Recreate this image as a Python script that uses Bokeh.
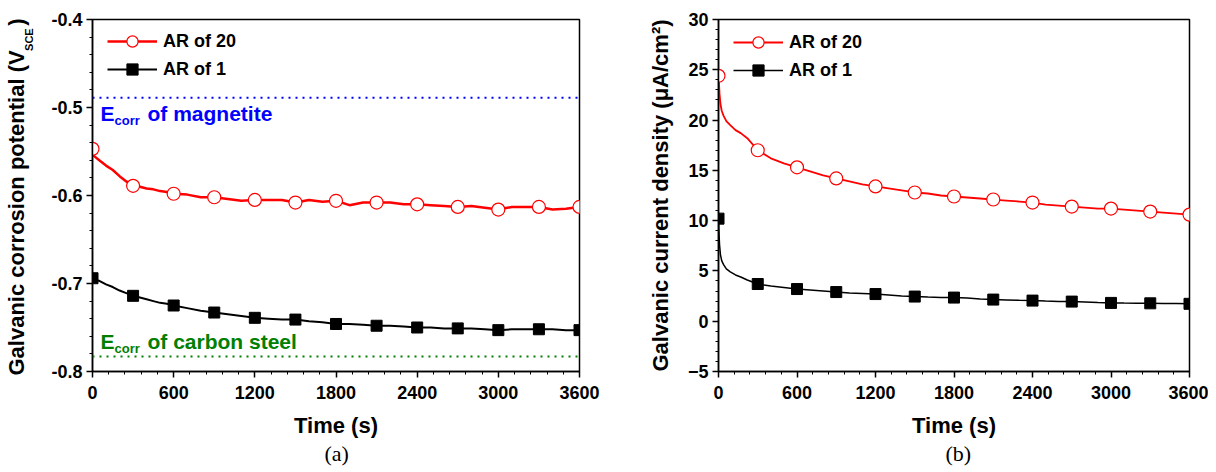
import math
from bokeh.plotting import figure
from bokeh.layouts import row
from bokeh.models import (Range1d, FixedTicker, Label, Legend, LegendItem, Span,
                          NumeralTickFormatter, Title)
from bokeh.embed import file_html
from bokeh.resources import INLINE

# ---------------- data ----------------
# (a) galvanic corrosion potential (V_SCE)
time_a = [0, 10, 50, 100, 150, 200, 250, 300, 350, 400, 450, 500, 550, 600, 700, 800, 900,
          1000, 1100, 1200, 1300, 1400, 1500, 1600, 1700, 1800, 1900, 2000, 2100, 2200,
          2300, 2400, 2500, 2600, 2700, 2800, 2900, 3000, 3100, 3200, 3300, 3400, 3500, 3600]
pot_ar20 = [-0.547, -0.555, -0.560, -0.566, -0.571, -0.578, -0.584, -0.589, -0.590, -0.592,
            -0.593, -0.595, -0.596, -0.598, -0.599, -0.602, -0.602, -0.604, -0.606, -0.605,
            -0.605, -0.605, -0.608, -0.605, -0.607, -0.606, -0.611, -0.608, -0.608, -0.608,
            -0.610, -0.610, -0.611, -0.612, -0.613, -0.612, -0.614, -0.616, -0.613, -0.613,
            -0.613, -0.616, -0.615, -0.613]
pot_ar1 = [-0.694, -0.696, -0.697, -0.701, -0.704, -0.708, -0.711, -0.714, -0.716, -0.718,
           -0.720, -0.722, -0.723, -0.725, -0.728, -0.731, -0.733, -0.735, -0.737, -0.739,
           -0.740, -0.741, -0.741, -0.743, -0.744, -0.746, -0.746, -0.747, -0.748, -0.748,
           -0.749, -0.750, -0.750, -0.751, -0.751, -0.751, -0.752, -0.753, -0.752, -0.752,
           -0.752, -0.752, -0.753, -0.753]
ecorr_magnetite = -0.489
ecorr_steel = -0.783

# (b) galvanic current density (uA/cm2)
time_b = [0, 3, 8, 15, 25, 40, 60, 90, 130, 170, 220, 300, 400, 500, 600, 700, 800, 900,
          1000, 1100, 1200, 1300, 1400, 1500, 1600, 1700, 1800, 1900, 2000, 2100, 2200,
          2300, 2400, 2500, 2600, 2700, 2800, 2900, 3000, 3100, 3200, 3300, 3400, 3500, 3600]
cur_ar20 = [24.4, 23.8, 22.6, 21.6, 20.9, 20.4, 19.9, 19.5, 19.0, 18.7, 18.2, 17.0, 16.2,
            15.7, 15.3, 14.9, 14.5, 14.2, 13.9, 13.6, 13.4, 13.2, 13.0, 12.8, 12.7, 12.5,
            12.4, 12.3, 12.2, 12.1, 12.0, 11.9, 11.8, 11.6, 11.5, 11.4, 11.3, 11.2, 11.2,
            11.1, 11.0, 10.9, 10.8, 10.7, 10.6]
cur_ar1 = [10.2, 9.0, 7.6, 6.6, 6.0, 5.6, 5.2, 4.9, 4.6, 4.4, 4.1, 3.7, 3.5, 3.35, 3.2,
           3.1, 3.0, 2.9, 2.8, 2.75, 2.7, 2.6, 2.5, 2.45, 2.4, 2.37, 2.35, 2.3, 2.2, 2.15,
           2.12, 2.08, 2.05, 2.0, 1.97, 1.95, 1.9, 1.85, 1.82, 1.8, 1.79, 1.78, 1.76, 1.75,
           1.73]

x_ticks = [0, 600, 1200, 1800, 2400, 3000, 3600]
ya_ticks = [-0.8, -0.7, -0.6, -0.5, -0.4]
yb_ticks = [-5, 0, 5, 10, 15, 20, 25, 30]
marker_step = 300

FONT = "Liberation Sans"
NB = "\u00a0"


def markers(t, v):
    tt = [a for a in t if a % marker_step == 0]
    vv = [b for a, b in zip(t, v) if a % marker_step == 0]
    return tt, vv


def style(p):
    p.xgrid.visible = False
    p.ygrid.visible = False
    p.outline_line_color = "black"
    p.outline_line_width = 1.5
    p.outline_line_alpha = 1
    p.xaxis.ticker = FixedTicker(ticks=x_ticks,
                                 minor_ticks=[m * 120 for m in range(0, 31)])
    for ax in (p.xaxis[0], p.yaxis[0]):
        ax.axis_line_width = 1.5
        ax.axis_line_color = "black"
        ax.major_tick_in = 0
        ax.major_tick_out = 6
        ax.minor_tick_in = 0
        ax.minor_tick_out = 3
        ax.major_tick_line_width = 1.5
        ax.minor_tick_line_width = 1
        ax.major_label_text_font = FONT
        ax.major_label_text_font_style = "bold"
        ax.major_label_text_font_size = "18px"
        ax.major_label_text_color = "black"
        ax.axis_label_text_font = FONT
        ax.axis_label_text_font_style = "bold"
        ax.axis_label_text_color = "black"
    p.xaxis.major_label_standoff = 8
    p.yaxis.major_label_standoff = 4
    p.xaxis.axis_label = "Time (s)"
    p.xaxis.axis_label_text_font_size = "22px"
    p.xaxis.axis_label_standoff = 11


def flat_label(p, x, y, xo, yo, text, size, color):
    p.add_layout(Label(x=x, y=y, x_offset=xo, y_offset=yo, text=text,
                       text_font=FONT, text_font_style="bold", text_font_size=size,
                       text_align="left", text_baseline="middle", text_color=color))


def legend(p, r20, r1, vx, vy):
    lg = Legend(items=[LegendItem(label="AR of 20", renderers=r20),
                       LegendItem(label="AR of 1", renderers=r1)],
                location=(vx, vy), padding=0, margin=0, spacing=0,
                glyph_width=50, glyph_height=28, label_height=28, label_standoff=6,
                label_text_font=FONT, label_text_font_style="bold",
                label_text_font_size="18px", label_text_color="black",
                background_fill_alpha=0, border_line_alpha=0)
    p.add_layout(lg)


def panel_tag(p, text, offset):
    p.add_layout(Title(text=text, align="left", offset=offset, vertical_align="top",
                       standoff=0, text_font="Liberation Serif", text_font_size="22px",
                       text_font_style="normal", text_color="black"), "below")


# ---------------- panel (a) ----------------
pa = figure(width=628, height=468, output_backend="svg", toolbar_location=None,
            x_range=Range1d(0, 3600), y_range=Range1d(-0.8, -0.4),
            min_border_left=92, min_border_right=49, min_border_top=19,
            min_border_bottom=97)
style(pa)
pa.yaxis.ticker = FixedTicker(ticks=ya_ticks,
                              minor_ticks=[-0.8 + 0.02 * k for k in range(0, 21)])
pa.yaxis.formatter = NumeralTickFormatter(format="0.0")
# subscript of the y label, set in the axis-label slot next to the tick labels
pa.yaxis.axis_label = NB * 102 + "SCE"
pa.yaxis.axis_label_text_font_size = "11px"
pa.yaxis.axis_label_standoff = 13
pa.add_layout(Title(text="Galvanic corrosion potential (V" + NB * 4 + ")", align="left",
                    offset=-4, vertical_align="bottom", standoff=-16, text_font=FONT,
                    text_font_size="22px", text_font_style="bold", text_color="black"),
              "left")

pa.add_layout(Span(location=ecorr_magnetite, dimension="width", line_color="#0000FF",
                   line_width=2, line_dash="2 5"))
pa.add_layout(Span(location=ecorr_steel, dimension="width", line_color="#008000",
                   line_width=2, line_dash="2 5"))

la20 = pa.line(time_a, pot_ar20, line_color="#FF0000", line_width=2.5)
mt, mv = markers(time_a, pot_ar20)
sa20 = pa.scatter(mt, mv, marker="circle", size=13, fill_color="white",
                  line_color="#FF0000", line_width=1.2)
la1 = pa.line(time_a, pot_ar1, line_color="black", line_width=2)
mt, mv = markers(time_a, pot_ar1)
sa1 = pa.scatter(mt, mv, marker="square", size=11, fill_color="black",
                 line_color="black")
legend(pa, [la20, sa20], [la1, sa1], 15, 288)

flat_label(pa, 0, ecorr_magnetite, 8, -16, "E", "21px", "#0000FF")
flat_label(pa, 0, ecorr_magnetite, 22, -23, "corr", "13px", "#0000FF")
flat_label(pa, 0, ecorr_magnetite, 55, -16, "of magnetite", "21px", "#0000FF")
flat_label(pa, 0, ecorr_steel, 8, 15, "E", "21px", "#008000")
flat_label(pa, 0, ecorr_steel, 22, 8, "corr", "13px", "#008000")
flat_label(pa, 0, ecorr_steel, 55, 15, "of carbon steel", "21px", "#008000")

panel_tag(pa, "(a)", 232)

# ---------------- panel (b) ----------------
pb = figure(width=580, height=468, output_backend="svg", toolbar_location=None,
            x_range=Range1d(0, 3600), y_range=Range1d(-5, 30),
            min_border_left=90, min_border_right=19, min_border_top=19,
            min_border_bottom=96)
style(pb)
pb.yaxis.ticker = FixedTicker(ticks=yb_ticks, minor_ticks=list(range(-5, 31)))
pb.yaxis.axis_label = "Galvanic current density (\u03bcA/cm\u00b2)"
pb.yaxis.axis_label_text_font_size = "22px"
pb.yaxis.axis_label_standoff = 12

lb20 = pb.line(time_b, cur_ar20, line_color="#FF0000", line_width=1.8)
mt, mv = markers(time_b, cur_ar20)
sb20 = pb.scatter(mt, mv, marker="circle", size=13, fill_color="white",
                  line_color="#FF0000", line_width=1.2)
lb1 = pb.line(time_b, cur_ar1, line_color="black", line_width=1.5)
mt, mv = markers(time_b, cur_ar1)
sb1 = pb.scatter(mt, mv, marker="square", size=11, fill_color="black",
                 line_color="black")
legend(pb, [lb20, sb20], [lb1, sb1], 15, 287)

panel_tag(pb, "(b)", 227)

layout = row(pa, pb)
open("out.html", "w").write(file_html(layout, INLINE))
